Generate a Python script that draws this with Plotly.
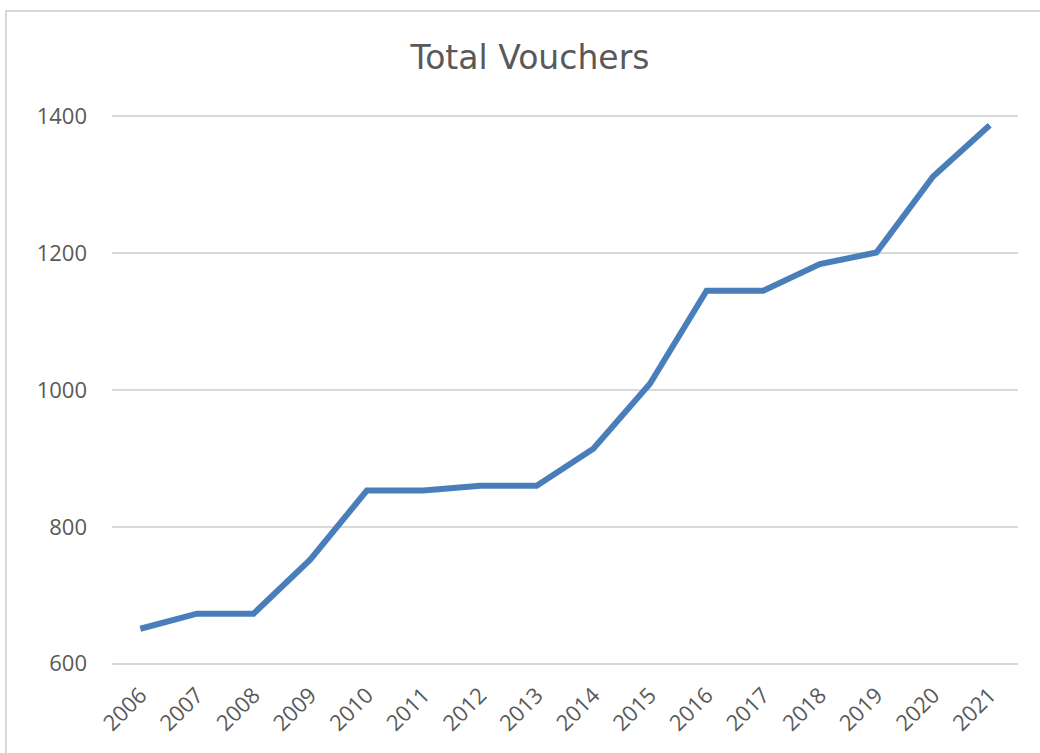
import plotly.graph_objects as go

years = ["2006", "2007", "2008", "2009", "2010", "2011", "2012", "2013",
         "2014", "2015", "2016", "2017", "2018", "2019", "2020", "2021"]
vouchers = [651, 673, 673, 752, 853, 853, 860, 860,
            914, 1009, 1145, 1145, 1184, 1201, 1312, 1387]
y_ticks = [600, 800, 1000, 1200, 1400]

W, H = 1040, 753
L, R, T, B = 112, 22, 115, 88
pw, ph = W - L - R, H - T - B


def px_to_paper(x, y):
    return (x - L) / pw, (H - B - y) / ph


fig = go.Figure()
fig.add_trace(go.Scatter(
    x=years, y=vouchers, mode="lines",
    line=dict(color="#4a7ebb", width=6),
    showlegend=False, hoverinfo="x+y",
))

# outer chart frame
x0, y0 = px_to_paper(6, 11)
x1, y1 = px_to_paper(1060, 780)
fig.add_shape(type="rect", xref="paper", yref="paper",
              x0=x0, y0=y1, x1=x1, y1=y0,
              line=dict(color="#d9d9d9", width=2), fillcolor="rgba(0,0,0,0)",
              layer="below")

tick_font = dict(family="Open Sans, Noto Sans, sans-serif", size=22, color="#595959")

fig.update_layout(
    width=W, height=H,
    margin=dict(l=L, r=R, t=T, b=B),
    paper_bgcolor="white", plot_bgcolor="white",
    font=dict(family="Open Sans, Noto Sans, sans-serif", color="#595959"),
    title=dict(text="Total Vouchers", x=(530 - L) / pw, xref="paper", xanchor="center",
               y=1 - 57 / H, yanchor="middle", yref="container",
               font=dict(family="DejaVu Sans, sans-serif", size=33, color="#595959")),
    xaxis=dict(type="category", range=[-0.5, len(years) - 0.5],
               tickangle=-45, tickfont=tick_font, ticklabelstandoff=12,
               showgrid=False, showline=False, zeroline=False, ticks="",
               fixedrange=True),
    yaxis=dict(range=[598, 1402], tickvals=y_ticks,
               tickfont=tick_font,
               showgrid=True, gridcolor="#d9d9d9", gridwidth=2,
               zeroline=False, showline=False, ticks="", ticklabelstandoff=24,
               fixedrange=True),
)

fig.write_html("out.html")
